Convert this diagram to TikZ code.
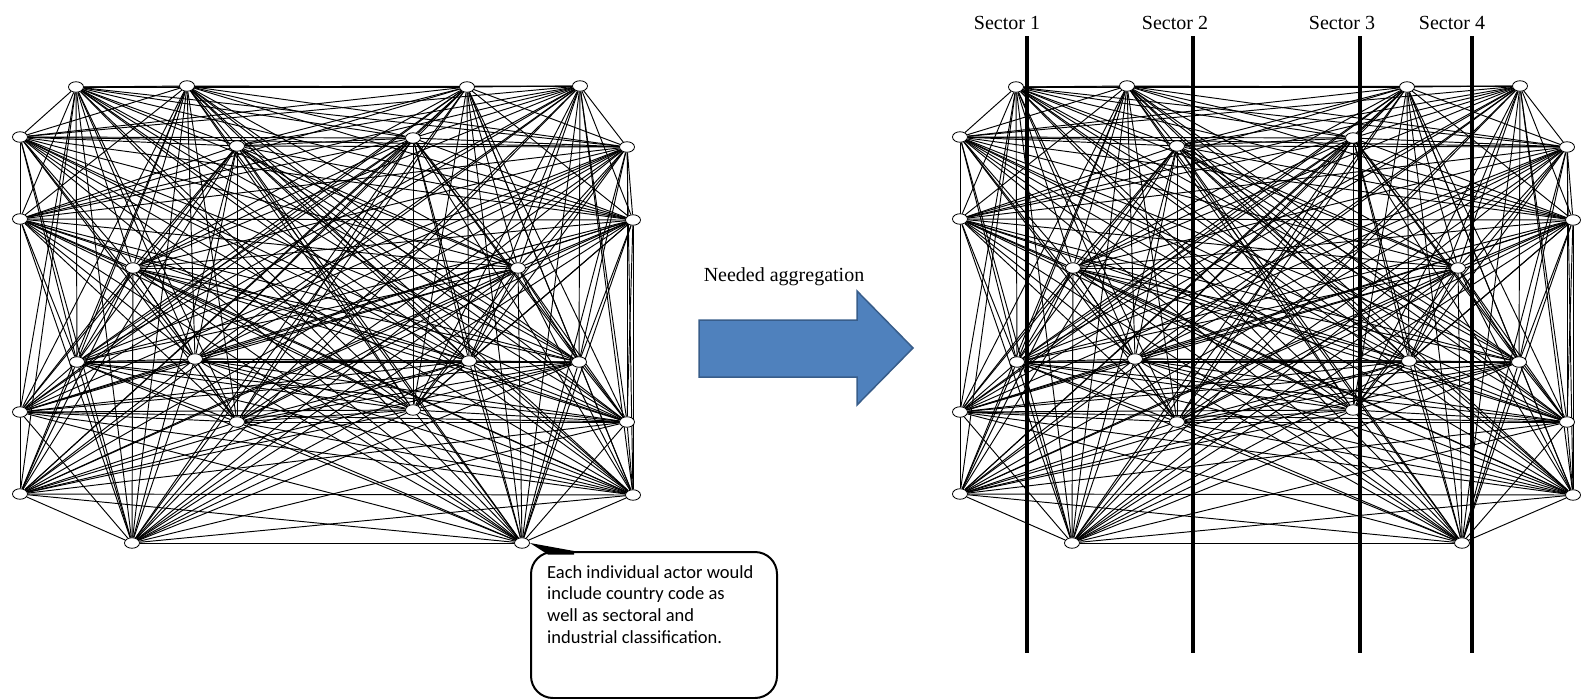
\documentclass[tikz,border=0pt]{standalone}
\usepackage{fontspec}
\setmainfont{Liberation Serif}
\newfontfamily\calloutfont{Carlito}
\usetikzlibrary{shapes.geometric,backgrounds}
\definecolor{arrowfill}{RGB}{79,129,189}
\definecolor{arrowedge}{RGB}{56,93,138}
\begin{document}
\begin{tikzpicture}[x=1pt,y=-1pt,
  actor/.style={ellipse,draw,fill=white,line width=0.8pt,
    minimum width=15pt,minimum height=10.5pt,inner sep=0pt},
  tie/.style={line width=0.95pt},
  sectorline/.style={line width=3.2pt},
  bigtext/.style={font=\fontsize{20}{24}\selectfont,inner sep=0pt},
  notebox/.style={draw,line width=2pt,rounded corners=22pt,
    minimum width=246pt,minimum height=146pt,inner sep=0pt},
]
\useasboundingbox (0,0) rectangle (1583,699);

% two copies of the same actor network: left (raw) and right (to be aggregated)
\foreach \g/\dx in {L/0,R/940} {
  \foreach \i/\x/\y in {1/76/87, 2/187/86, 3/467/87, 4/580/86,
      5/20/137, 6/237/146, 7/413/138, 8/627/147,
      9/20/219, 10/633/220, 11/133/268, 12/518/268,
      13/77/362, 14/195/359, 15/469/361, 16/579/362,
      17/20/412, 18/237/422, 19/413/410, 20/627/422,
      21/20/494, 22/633/495, 23/132/543, 24/522/543} {
    \node[actor] (\g-\i) at (\x+\dx,\y) {};
  }
  % every actor is tied to every other actor
  \begin{scope}[on background layer]
    \foreach \i in {1,...,23} {
      \pgfmathtruncatemacro\k{\i+1}
      \foreach \j in {\k,...,24} {
        \draw[tie] (\g-\i) -- (\g-\j);
      }
    }
  \end{scope}
}

% sector dividers over the right network
\foreach \s/\x/\lx in {1/1027/1007, 2/1193/1175, 3/1360/1342, 4/1472/1452} {
  \coordinate (top\s) at (\x,36);
  \coordinate (bot\s) at (\x,653);
  \draw[sectorline] (top\s) -- (bot\s);
  \node[bigtext,anchor=base] (sec\s) at (\lx,29) {Sector \s};
}

% aggregation arrow
\draw[fill=arrowfill,draw=arrowedge,line width=1.5pt,line join=miter]
  (699,320) -- (857,320) -- (857,291) -- (913,348) -- (857,405)
  -- (857,377) -- (699,377) -- cycle;
\node[bigtext,anchor=base] (agg) at (784,281) {Needed aggregation};

% callout attached to one actor
\node[notebox] (note) at (654,625) {};
\fill (L-24.east) -- (574,551) -- (574,554.5) -- (548,554.5) -- cycle;
\node[anchor=north west,inner sep=0pt,align=left,
  font=\calloutfont\fontsize{18.5}{21.7}\selectfont] (notetext) at (547,565)
  {Each individual actor would\\include country code as\\well as sectoral and\\industrial classification.};
\end{tikzpicture}
\end{document}
